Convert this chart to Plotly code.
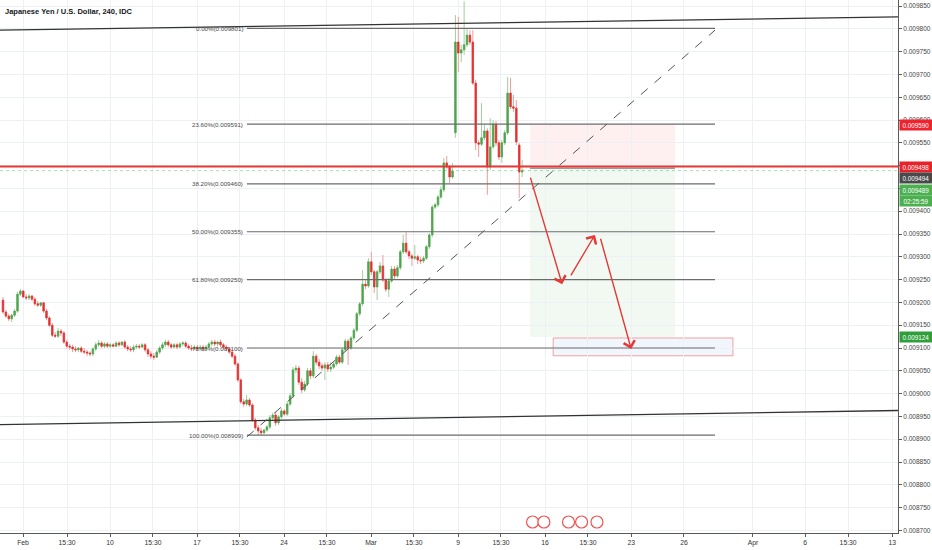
import plotly.graph_objects as go

title_text = "Japanese Yen / U.S. Dollar, 240, IDC"

open_ = [
 0.009205,0.009179,0.009170,0.009164,0.009172,0.009181,0.009218,0.009225,0.009212,0.009210,
 0.009214,0.009207,0.009197,0.009194,0.009199,0.009181,0.009166,0.009150,0.009128,0.009126,
 0.009137,0.009133,0.009113,0.009104,0.009102,0.009098,0.009096,0.009100,0.009093,0.009091,
 0.009089,0.009087,0.009098,0.009107,0.009111,0.009104,0.009109,0.009104,0.009107,0.009104,
 0.009111,0.009107,0.009113,0.009102,0.009098,0.009096,0.009102,0.009104,0.009102,0.009107,
 0.009096,0.009087,0.009082,0.009080,0.009091,0.009100,0.009107,0.009113,0.009107,0.009102,
 0.009107,0.009102,0.009109,0.009111,0.009104,0.009100,0.009098,0.009102,0.009098,0.009102,
 0.009098,0.009102,0.009109,0.009113,0.009109,0.009113,0.009107,0.009102,0.009098,0.009091,
 0.009082,0.009065,0.009030,0.008982,0.008977,0.008986,0.008975,0.008942,0.008925,0.008918,
 0.008914,0.008920,0.008927,0.008947,0.008953,0.008936,0.008949,0.008962,0.008955,0.008977,
 0.008995,0.009052,0.009056,0.009025,0.009008,0.009021,0.009050,0.009039,0.009082,0.009069,
 0.009061,0.009056,0.009063,0.009054,0.009058,0.009065,0.009080,0.009069,0.009096,0.009115,
 0.009100,0.009122,0.009139,0.009175,0.009197,0.009240,0.009236,0.009289,0.009267,0.009234,
 0.009267,0.009280,0.009249,0.009229,0.009247,0.009273,0.009258,0.009276,0.009311,0.009330,
 0.009311,0.009302,0.009297,0.009300,0.009293,0.009291,0.009297,0.009322,0.009348,0.009409,
 0.009414,0.009431,0.009447,0.009506,0.009497,0.009475,0.009572,0.009771,0.009747,0.009754,
 0.009765,0.009786,0.009771,0.009681,0.009550,0.009547,0.009561,0.009576,0.009497,0.009541,
 0.009591,0.009550,0.009519,0.009550,0.009572,0.009659,0.009629,0.009626,0.009545,0.009486,
]
high = [
 0.009212,0.009183,0.009175,0.009175,0.009186,0.009223,0.009229,0.009227,0.009218,0.009218,
 0.009216,0.009212,0.009203,0.009201,0.009201,0.009186,0.009170,0.009155,0.009135,0.009144,
 0.009142,0.009137,0.009118,0.009109,0.009107,0.009104,0.009102,0.009104,0.009100,0.009096,
 0.009093,0.009102,0.009113,0.009118,0.009115,0.009113,0.009113,0.009111,0.009111,0.009115,
 0.009115,0.009115,0.009118,0.009107,0.009104,0.009107,0.009109,0.009109,0.009111,0.009111,
 0.009100,0.009093,0.009089,0.009096,0.009104,0.009113,0.009118,0.009118,0.009111,0.009111,
 0.009111,0.009113,0.009115,0.009115,0.009109,0.009107,0.009107,0.009107,0.009107,0.009107,
 0.009107,0.009113,0.009118,0.009118,0.009115,0.009118,0.009111,0.009107,0.009102,0.009096,
 0.009087,0.009069,0.009034,0.008988,0.008997,0.008990,0.008979,0.008947,0.008931,0.008925,
 0.008922,0.008931,0.008953,0.008958,0.008960,0.008953,0.008968,0.008966,0.008982,0.009001,
 0.009058,0.009063,0.009061,0.009034,0.009028,0.009056,0.009056,0.009093,0.009087,0.009076,
 0.009067,0.009069,0.009069,0.009069,0.009069,0.009085,0.009085,0.009100,0.009120,0.009120,
 0.009126,0.009144,0.009179,0.009201,0.009271,0.009249,0.009297,0.009311,0.009271,0.009271,
 0.009289,0.009304,0.009254,0.009254,0.009280,0.009280,0.009282,0.009315,0.009348,0.009354,
 0.009315,0.009306,0.009326,0.009304,0.009300,0.009302,0.009326,0.009352,0.009414,0.009418,
 0.009436,0.009455,0.009517,0.009521,0.009501,0.009506,0.009830,0.009826,0.009765,0.009860,
 0.009800,0.009797,0.009797,0.009688,0.009556,0.009637,0.009589,0.009582,0.009604,0.009600,
 0.009598,0.009556,0.009556,0.009578,0.009694,0.009692,0.009655,0.009644,0.009550,0.009512,
]
low = [
 0.009175,0.009166,0.009159,0.009157,0.009168,0.009177,0.009214,0.009210,0.009205,0.009205,
 0.009203,0.009192,0.009190,0.009190,0.009177,0.009161,0.009146,0.009124,0.009122,0.009122,
 0.009126,0.009109,0.009098,0.009096,0.009091,0.009091,0.009091,0.009089,0.009087,0.009082,
 0.009082,0.009082,0.009093,0.009102,0.009100,0.009100,0.009100,0.009100,0.009102,0.009102,
 0.009102,0.009104,0.009098,0.009093,0.009091,0.009091,0.009098,0.009098,0.009100,0.009091,
 0.009080,0.009076,0.009074,0.009078,0.009087,0.009096,0.009102,0.009102,0.009098,0.009100,
 0.009098,0.009100,0.009104,0.009100,0.009096,0.009093,0.009096,0.009093,0.009096,0.009093,
 0.009096,0.009100,0.009104,0.009104,0.009104,0.009102,0.009098,0.009093,0.009087,0.009078,
 0.009061,0.009025,0.008977,0.008971,0.008973,0.008971,0.008938,0.008920,0.008909,0.008909,
 0.008911,0.008916,0.008922,0.008940,0.008929,0.008931,0.008944,0.008951,0.008951,0.008973,
 0.008990,0.009045,0.009019,0.009001,0.009004,0.009017,0.009032,0.009034,0.009063,0.009054,
 0.009050,0.009030,0.009047,0.009047,0.009054,0.009061,0.009065,0.009065,0.009091,0.009063,
 0.009096,0.009118,0.009135,0.009170,0.009192,0.009229,0.009232,0.009260,0.009221,0.009205,
 0.009262,0.009245,0.009223,0.009212,0.009243,0.009251,0.009254,0.009271,0.009306,0.009306,
 0.009295,0.009280,0.009293,0.009284,0.009284,0.009286,0.009293,0.009317,0.009343,0.009405,
 0.009409,0.009427,0.009442,0.009493,0.009462,0.009471,0.009561,0.009705,0.009727,0.009743,
 0.009760,0.009765,0.009677,0.009534,0.009519,0.009543,0.009556,0.009436,0.009490,0.009537,
 0.009543,0.009512,0.009506,0.009545,0.009567,0.009624,0.009618,0.009545,0.009429,0.009475,
]
close = [
 0.009179,0.009170,0.009164,0.009172,0.009181,0.009218,0.009225,0.009212,0.009210,0.009214,
 0.009207,0.009197,0.009194,0.009199,0.009181,0.009166,0.009150,0.009128,0.009126,0.009137,
 0.009133,0.009113,0.009104,0.009102,0.009098,0.009096,0.009100,0.009093,0.009091,0.009089,
 0.009087,0.009098,0.009107,0.009111,0.009104,0.009109,0.009104,0.009107,0.009104,0.009111,
 0.009107,0.009113,0.009102,0.009098,0.009096,0.009102,0.009104,0.009102,0.009107,0.009096,
 0.009087,0.009082,0.009080,0.009091,0.009100,0.009107,0.009113,0.009107,0.009102,0.009107,
 0.009102,0.009109,0.009111,0.009104,0.009100,0.009098,0.009102,0.009098,0.009102,0.009098,
 0.009102,0.009109,0.009113,0.009109,0.009113,0.009107,0.009102,0.009098,0.009091,0.009082,
 0.009065,0.009030,0.008982,0.008977,0.008986,0.008975,0.008942,0.008925,0.008918,0.008914,
 0.008920,0.008927,0.008947,0.008953,0.008936,0.008949,0.008962,0.008955,0.008977,0.008995,
 0.009052,0.009056,0.009025,0.009008,0.009021,0.009050,0.009039,0.009082,0.009069,0.009061,
 0.009056,0.009063,0.009054,0.009058,0.009065,0.009080,0.009069,0.009096,0.009115,0.009100,
 0.009122,0.009139,0.009175,0.009197,0.009240,0.009236,0.009289,0.009267,0.009234,0.009267,
 0.009280,0.009249,0.009229,0.009247,0.009273,0.009258,0.009276,0.009311,0.009330,0.009311,
 0.009302,0.009297,0.009300,0.009293,0.009291,0.009297,0.009322,0.009348,0.009409,0.009414,
 0.009431,0.009447,0.009506,0.009497,0.009475,0.009488,0.009771,0.009747,0.009754,0.009765,
 0.009786,0.009771,0.009681,0.009550,0.009547,0.009561,0.009576,0.009497,0.009541,0.009591,
 0.009550,0.009519,0.009550,0.009572,0.009659,0.009629,0.009626,0.009552,0.009486,0.009489,
]

x_tick_labels = ["Feb", "15:30", "10", "15:30", "17", "15:30", "24", "15:30", "Mar", "15:30",
                 "9", "15:30", "16", "15:30", "23", "26", "Apr", "6", "15:30", "13"]
x_tick_pos = [6.9, 22.1, 36.9, 51.7, 66.9, 81.7, 96.9, 111.7, 126.9, 141.7,
              156.9, 171.7, 186.9, 201.7, 216.6, 234.8, 258.6, 276.6, 291.4, 306.6]

fib_pcts = ["0.00%", "23.60%", "38.20%", "50.00%", "61.80%", "78.60%", "100.00%"]
fib_levels = [0.009801, 0.009591, 0.009460, 0.009355, 0.009250, 0.009100, 0.008909]

entry_price = 0.009494
stop_price = 0.009590
target_price = 0.009124
alert_price = 0.009498
last_price = 0.009489
countdown = "02:25:59"

UP = "#4fa54f"
DN = "#e3312f"
UP_W = "#9fd09a"
DN_W = "#f19c9c"
GRID = "#edf1f6"
AX = "#5a5a5a"
FONT = "Liberation Sans"

idx = list(range(len(close)))
body_hi = [max(o, c) for o, c in zip(open_, close)]
body_lo = [min(o, c) for o, c in zip(open_, close)]

fig = go.Figure()
fig.add_trace(go.Candlestick(
    x=idx, open=open_, high=high, low=low, close=close,
    increasing=dict(line=dict(color=UP_W, width=1), fillcolor=UP_W),
    decreasing=dict(line=dict(color=DN_W, width=1), fillcolor=DN_W),
    hoverinfo="skip", showlegend=False))
fig.add_trace(go.Candlestick(
    x=idx, open=open_, high=body_hi, low=body_lo, close=close,
    increasing=dict(line=dict(color=UP, width=0.6), fillcolor=UP),
    decreasing=dict(line=dict(color=DN, width=0.6), fillcolor=DN),
    hoverinfo="skip", showlegend=False))

XL, XR = -1.03, 308.6
shapes = []
# position tool zones
px0, px1 = 181.7, 231.7
shapes.append(dict(type="rect", xref="x", yref="y", x0=px0, x1=px1, y0=entry_price, y1=stop_price,
                   fillcolor="rgba(242,54,69,0.08)", line=dict(width=0), layer="below"))
shapes.append(dict(type="rect", xref="x", yref="y", x0=px0, x1=px1, y0=target_price, y1=entry_price,
                   fillcolor="rgba(76,175,80,0.07)", line=dict(width=0), layer="below"))
# bottom target box
shapes.append(dict(type="rect", xref="x", yref="y", x0=189.7, x1=251.7, y0=0.009083, y1=0.009122,
                   fillcolor="rgba(215,228,248,0.35)", line=dict(color="rgba(229,57,53,0.45)", width=1),
                   layer="below"))
# fib lines
for lv in fib_levels:
    shapes.append(dict(type="line", xref="x", yref="y", x0=84.1, x1=245.5, y0=lv, y1=lv,
                       line=dict(color="#6b6b6b", width=1.2)))
# channel lines
shapes.append(dict(type="line", xref="x", yref="y", x0=XL, x1=XR, y0=0.009797, y1=0.009826,
                   line=dict(color="#333333", width=1.3)))
shapes.append(dict(type="line", xref="x", yref="y", x0=XL, x1=XR, y0=0.008932, y1=0.008963,
                   line=dict(color="#333333", width=1.3)))
# dashed trend line
shapes.append(dict(type="line", xref="x", yref="y", x0=84.1, x1=245.5, y0=0.008905, y1=0.009797,
                   line=dict(color="#555555", width=1, dash="dash")))
# entry line of position
shapes.append(dict(type="line", xref="x", yref="y", x0=px0, x1=px1, y0=entry_price, y1=entry_price,
                   line=dict(color="#9a9a9a", width=1.5)))
# alert (red) line and last price line
shapes.append(dict(type="line", xref="x", yref="y", x0=XL, x1=XR, y0=alert_price, y1=alert_price,
                   line=dict(color="#e53935", width=2)))
shapes.append(dict(type="line", xref="x", yref="y", x0=XL, x1=XR, y0=last_price, y1=last_price,
                   line=dict(color="rgba(76,175,80,0.45)", width=1, dash="dot")))
# event icons near bottom
for ex in [182.6, 186.5, 195.0, 199.5, 204.8]:
    shapes.append(dict(type="circle", xref="x", yref="paper", xsizemode="pixel", ysizemode="pixel",
                       xanchor=ex, yanchor=0.0, x0=-6, x1=6, y0=5, y1=17,
                       fillcolor="rgba(255,255,255,0.9)", line=dict(color="#ef5350", width=1.2)))

annotations = []
annotations.append(dict(xref="paper", yref="paper", x=0, y=1, xanchor="left", yanchor="top",
                        xshift=3, yshift=-5, text=title_text, showarrow=False,
                        font=dict(family=FONT, size=7.5, color="#131722", weight="bold")))
for pct, lv in zip(fib_pcts, fib_levels):
    annotations.append(dict(xref="x", yref="y", x=83.3, y=lv, xanchor="right", yanchor="middle",
                            text=f"{pct}({lv:.6f})", showarrow=False,
                            font=dict(family=FONT, size=6.2, color="#4a4a4a")))
# arrows
for (tx, ty, hx, hy) in [(181.7, 0.009477, 192.8, 0.009240),
                         (195.5, 0.009256, 204.1, 0.009348),
                         (205.9, 0.009343, 216.6, 0.009098)]:
    annotations.append(dict(xref="x", yref="y", axref="x", ayref="y", x=hx, y=hy, ax=tx, ay=ty,
                            text="", showarrow=True, arrowhead=4, arrowsize=1.6, arrowwidth=1.4,
                            arrowcolor="#e53935"))
# right-side price labels
def price_tag(y, text, bg, shift=0):
    annotations.append(dict(xref="paper", yref="y", x=1, y=y, xanchor="left", yanchor="middle",
                            yshift=shift, xshift=1, text=text, showarrow=False, bgcolor=bg,
                            borderpad=1.5, width=29,
                            font=dict(family=FONT, size=6.3, color="white")))

price_tag(stop_price, f"{stop_price:.6f}", "#f0222e")
price_tag(alert_price, f"{alert_price:.6f}", "#e8222a")
price_tag(entry_price, f"{entry_price:.6f}", "#4a4a4a", shift=-10)
price_tag(last_price, f"{last_price:.6f}", "#4caf50", shift=-19)
price_tag(last_price, countdown, "#4caf50", shift=-30)
price_tag(target_price, f"{target_price:.6f}", "#2e9f3a")

fig.update_layout(
    width=932, height=550,
    margin=dict(l=0, r=34, t=0, b=17),
    paper_bgcolor="white", plot_bgcolor="white",
    shapes=shapes, annotations=annotations,
    showlegend=False,
    font=dict(family=FONT, size=7, color="#333"),
)
fig.update_xaxes(range=[XL, XR], tickvals=x_tick_pos, ticktext=x_tick_labels,
                 showgrid=True, gridcolor=GRID, gridwidth=1, zeroline=False,
                 showline=True, linecolor=AX, linewidth=1, ticks="outside", ticklen=3,
                 tickcolor=AX, tickfont=dict(family=FONT, size=6.8, color="#333"),
                 rangeslider=dict(visible=False), fixedrange=True)
fig.update_yaxes(range=[0.0086943, 0.0098632], side="right", dtick=0.00005, tick0=0.0087,
                 tickformat=".6f", showgrid=True, gridcolor=GRID, gridwidth=1, zeroline=False,
                 showline=True, linecolor=AX, linewidth=1, ticks="outside", ticklen=3,
                 tickcolor=AX, tickfont=dict(family=FONT, size=6.5, color="#444"),
                 fixedrange=True)

fig.write_html("out.html", config={"displayModeBar": False},
               post_script="document.body.style.margin='0px';document.body.style.overflow='hidden';")
